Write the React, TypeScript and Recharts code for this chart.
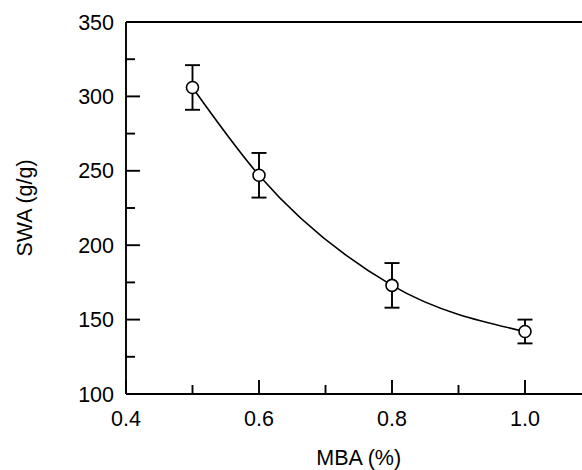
import React from 'react';
import { LineChart, Line, XAxis, YAxis, ErrorBar, ReferenceLine, Label } from 'recharts';

const mba = [0.5, 0.6, 0.8, 1.0];
const swa = [306, 247, 173, 142];
const swaErr = [15, 15, 15, 8];

const xTicks = [0.4, 0.5, 0.6, 0.7, 0.8, 0.9, 1.0];
const xTickLabels = ['0.4', '', '0.6', '', '0.8', '', '1.0'];
const yTicks = [100, 125, 150, 175, 200, 225, 250, 275, 300, 325, 350];
const yTickLabels = ['100', '', '150', '', '200', '', '250', '', '300', '', '350'];

const data = mba.map((m, i) => ({ mba: m, swa: swa[i], err: swaErr[i] }));

const FONT = '"Liberation Sans", Arial, sans-serif';
const FS = 21.5;
const AXIS_W = 1.9;

const findIdx = (arr: number[], v: number) => arr.findIndex((a) => Math.abs(a - v) < 1e-9);

const XTick = (props: any) => {
  const { x, y, payload } = props;
  const i = findIdx(xTicks, payload.value);
  const label = i >= 0 ? xTickLabels[i] : '';
  const len = label ? 14 : 9;
  return (
    <g>
      <line x1={x} y1={y} x2={x} y2={y - len} stroke="#000" strokeWidth={AXIS_W} />
      {label ? (
        <text x={x} y={y + 32} textAnchor="middle" fontSize={FS} fontFamily={FONT} fill="#000">
          {label}
        </text>
      ) : null}
    </g>
  );
};

const YTick = (props: any) => {
  const { x, y, payload } = props;
  const i = findIdx(yTicks, payload.value);
  const label = i >= 0 ? yTickLabels[i] : '';
  const len = label ? 14 : 9;
  return (
    <g>
      <line x1={x} y1={y} x2={x + len} y2={y} stroke="#000" strokeWidth={AXIS_W} />
      {label ? (
        <text x={x - 12} y={y + 7.5} textAnchor="end" fontSize={FS} fontFamily={FONT} fill="#000">
          {label}
        </text>
      ) : null}
    </g>
  );
};

export default function App() {
  return (
    <div style={{ position: 'absolute', left: 0, top: 0, width: 582, height: 470, overflow: 'hidden', background: '#fff' }}>
      <LineChart width={600} height={470} data={data} margin={{ top: 22, right: 8.5, left: 8, bottom: 16 }}>
        <XAxis
          dataKey="mba"
          type="number"
          domain={[0.4, 1.1]}
          ticks={xTicks}
          interval={0}
          tickSize={0}
          tickMargin={0}
          tick={<XTick />}
          tickLine={false}
          axisLine={{ stroke: '#000', strokeWidth: AXIS_W }}
          height={60}
          allowDataOverflow
        >
          <Label
            content={(p: any) => {
              const vb = p.viewBox || {};
              return (
                <text x={vb.x + vb.width / 2} y={vb.y + 71} textAnchor="middle" fontSize={FS} fontFamily={FONT} fill="#000">
                  MBA (%)
                </text>
              );
            }}
          />
        </XAxis>
        <YAxis
          type="number"
          domain={[100, 350]}
          ticks={yTicks}
          interval={0}
          tickSize={0}
          tickMargin={0}
          tick={<YTick />}
          tickLine={false}
          axisLine={{ stroke: '#000', strokeWidth: AXIS_W }}
          width={118}
          allowDataOverflow
        >
          <Label
            content={(p: any) => {
              const vb = p.viewBox || {};
              const cx = vb.x + 24;
              const cy = vb.y + vb.height / 2;
              return (
                <text x={cx} y={cy} transform={`rotate(-90, ${cx}, ${cy})`} textAnchor="middle" fontSize={FS} fontFamily={FONT} fill="#000">
                  SWA (g/g)
                </text>
              );
            }}
          />
        </YAxis>
        <ReferenceLine y={350} stroke="#000" strokeWidth={AXIS_W} ifOverflow="visible" />
        <ReferenceLine x={1.1} stroke="#000" strokeWidth={AXIS_W} ifOverflow="visible" />
        <Line
          dataKey="swa"
          type="monotone"
          stroke="#000"
          strokeWidth={1.6}
          dot={{ r: 6, fill: '#fff', stroke: '#000', strokeWidth: 1.6 }}
          activeDot={false}
          isAnimationActive={false}
        >
          <ErrorBar dataKey="err" width={7.5} stroke="#000" strokeWidth={1.9} direction="y" />
        </Line>
      </LineChart>
    </div>
  );
}
